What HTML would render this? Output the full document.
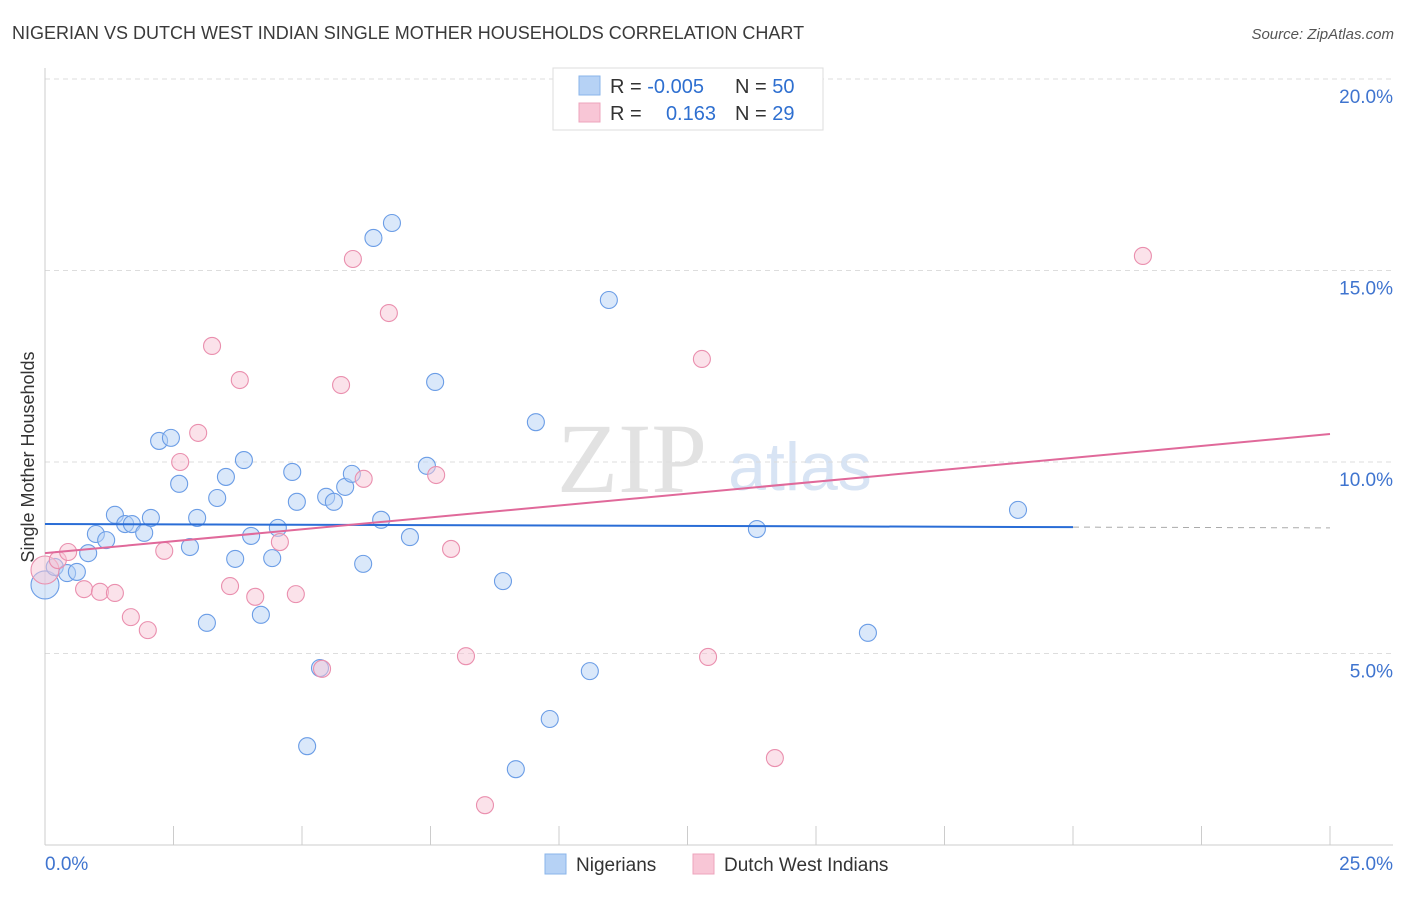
<!DOCTYPE html>
<html><head><meta charset="utf-8"><style>
body{margin:0;background:#fff;font-family:"Liberation Sans",sans-serif}
svg text{font-family:"Liberation Sans",sans-serif}
</style></head><body>
<svg id="chart" width="1406" height="892">
<text x="12" y="39" font-size="18" fill="#3a3a3a">NIGERIAN VS DUTCH WEST INDIAN SINGLE MOTHER HOUSEHOLDS CORRELATION CHART</text>
<text x="1394" y="39" font-size="15" fill="#555" text-anchor="end" font-style="italic">Source: ZipAtlas.com</text>
<text x="0" y="0" transform="translate(34,457) rotate(-90)" font-size="18" fill="#333" text-anchor="middle">Single Mother Households</text>
<text x="632" y="492" font-size="100" fill="#e2e2e2" text-anchor="middle" style="font-family:'Liberation Serif',serif">ZIP</text>
<text x="800" y="490" font-size="68" fill="#d8e4f4" text-anchor="middle">atlas</text>
<g id="grid"></g><g id="axes"></g><g id="pts"></g><g id="trend"></g>
<g>
<rect x="553" y="68" width="270" height="62" fill="#fff" stroke="#ddd"/>
<rect x="579" y="76" width="21" height="19" fill="#b6d2f5" stroke="#8ab4ea"/>
<rect x="579" y="103" width="21" height="19" fill="#f8c6d6" stroke="#eea4bc"/>
<text x="610" y="93" font-size="20" fill="#333">R = <tspan fill="#2e6fd0">-0.005</tspan></text>
<text x="735" y="93" font-size="20" fill="#333">N = <tspan fill="#2e6fd0">50</tspan></text>
<text x="610" y="120" font-size="20" fill="#333">R = </text>
<text x="716" y="120" font-size="20" fill="#2e6fd0" text-anchor="end">0.163</text>
<text x="735" y="120" font-size="20" fill="#333">N = <tspan fill="#2e6fd0"> 29</tspan></text>
</g>
<g>
<rect x="545" y="854" width="21" height="20" fill="#b6d2f5" stroke="#8ab4ea"/>
<text x="576" y="871" font-size="19" fill="#333">Nigerians</text>
<rect x="693" y="854" width="21" height="20" fill="#f8c6d6" stroke="#eea4bc"/>
<text x="724" y="871" font-size="19" fill="#333">Dutch West Indians</text>
</g>
</svg>
<script>
const blueX=[0,0.19,0.43,0.62,0.84,0.99,1.19,1.36,1.56,1.69,1.93,2.06,2.22,2.45,2.61,2.82,2.96,3.15,3.35,3.52,3.70,3.87,4.01,4.20,4.42,4.53,4.81,4.90,5.10,5.35,5.47,5.62,5.84,5.97,6.19,6.39,6.54,6.75,7.10,7.43,7.59,8.91,9.16,9.55,9.82,10.60,10.97,13.85,16.01,18.93];
const blueY=[6.79,7.26,7.10,7.13,7.62,8.12,7.96,8.62,8.38,8.38,8.15,8.54,10.55,10.63,9.43,7.78,8.54,5.80,9.06,9.61,7.47,10.05,8.07,6.01,7.49,8.28,9.74,8.96,2.58,4.62,9.09,8.96,9.35,9.69,7.34,15.85,8.49,16.24,8.04,9.90,12.09,6.89,1.98,11.04,3.29,4.54,14.23,8.25,5.54,8.75];
const pinkX=[0,0.25,0.45,0.76,1.07,1.36,1.67,2.00,2.32,2.63,2.98,3.25,3.60,3.79,4.09,4.57,4.88,5.39,5.76,5.99,6.20,6.69,7.61,7.90,8.19,8.56,12.78,12.90,14.20,21.36];
const pinkY=[7.18,7.44,7.65,6.68,6.61,6.58,5.95,5.61,7.68,10.00,10.76,13.03,6.76,12.14,6.48,7.91,6.55,4.60,12.01,15.30,9.56,13.89,9.66,7.73,4.93,1.04,12.69,4.91,2.27,15.38];
const yTicks=[5,10,15,20];
const yTickLabels=["5.0%","10.0%","15.0%","20.0%"];
const xTicks=[0,2.5,5,7.5,10,12.5,15,17.5,20,22.5,25];
const blueTrend=[8.38,8.30];
const pinkTrend=[7.62,10.73];
const NS='http://www.w3.org/2000/svg';
const X=v=>45+v/25*1285, Y=v=>845-v*38.3;
function mk(t,a,p){const e=document.createElementNS(NS,t);for(const k in a)e.setAttribute(k,a[k]);document.getElementById(p).appendChild(e);return e;}
yTicks.forEach((v,i)=>{
 const l=mk('line',{x1:45,x2:1393,y1:Y(v),y2:Y(v),stroke:'#ddd','stroke-dasharray':'5,4'},'grid');
 
 
 const t=mk('text',{x:1393,y:Y(v)+24,'font-size':19,fill:'#3f74cf','text-anchor':'end'},'grid');t.textContent=yTickLabels[i];
 
 
});
mk('line',{x1:45,x2:45,y1:68,y2:845,stroke:'#ccc'},'axes');
mk('line',{x1:45,x2:1393,y1:845,y2:845,stroke:'#ccc'},'axes');
xTicks.forEach(v=>{const l=mk('line',{x1:X(v),x2:X(v),y1:826,y2:845,stroke:'#ccc'},'axes');
 
 });
let t=mk('text',{x:45,y:870,'font-size':19,fill:'#3f74cf'},'axes');t.textContent='0.0%';

t=mk('text',{x:1393,y:870,'font-size':19,fill:'#3f74cf','text-anchor':'end'},'axes');t.textContent='25.0%';

function pts(xs,ys,fill,stroke,name){xs.forEach((x,i)=>{const c=mk('circle',{cx:X(x),cy:Y(ys[i]),r:i==0?14:8.5,fill:fill,'fill-opacity':0.5,stroke:stroke,'stroke-width':1.1},'pts');
 
 });}
pts(blueX,blueY,'#b6d2f5','#6b9de6','nigerian-point');
pts(pinkX,pinkY,'#f8c6d6','#ea8fae','dutch-west-indian-point');
let l=mk('line',{x1:X(0),x2:X(20),y1:Y(blueTrend[0]),y2:Y(blueTrend[1]),stroke:'#2a6dd6','stroke-width':2},'trend');

l=mk('line',{x1:X(20),x2:X(25),y1:Y(blueTrend[1]),y2:Y(blueTrend[1]-(blueTrend[0]-blueTrend[1])/4),stroke:'#aaa','stroke-dasharray':'6,5'},'trend');

l=mk('line',{x1:X(0),x2:X(25),y1:Y(pinkTrend[0]),y2:Y(pinkTrend[1]),stroke:'#e0699a','stroke-width':2},'trend');

</script>
</body></html>
